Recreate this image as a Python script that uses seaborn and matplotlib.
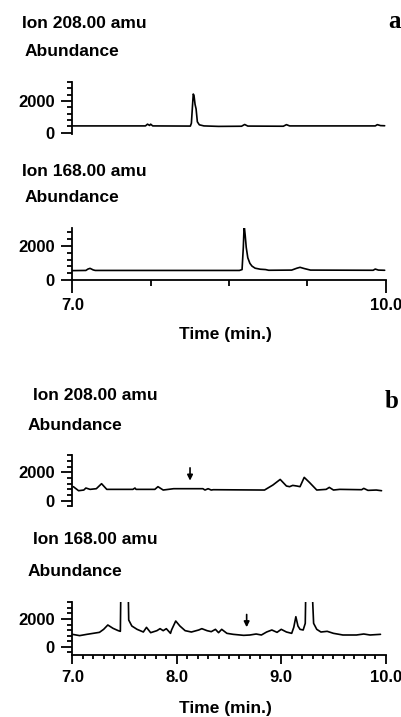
import matplotlib
matplotlib.use("Agg")
import matplotlib.pyplot as plt
from matplotlib.ticker import FixedLocator, FormatStrFormatter, MultipleLocator
import pandas as pd
import seaborn as sns

sns.set_style("ticks")
plt.rcParams['font.family'] = ['Liberation Sans', 'DejaVu Sans']
plt.rcParams['font.weight'] = 'bold'
plt.rcParams['text.color'] = 'black'
plt.rcParams['axes.edgecolor'] = 'black'
plt.rcParams['xtick.color'] = 'black'
plt.rcParams['ytick.color'] = 'black'

# panel a, ion 208
a208_time = [7.00, 7.70, 7.72, 7.74, 7.75, 7.77, 8.13, 8.14, 8.15, 8.158, 8.165, 8.175,
             8.185, 8.197, 8.216, 8.26, 8.40, 8.62, 8.65, 8.68, 9.02, 9.05, 9.08,
             9.90, 9.92, 9.95, 9.99]
a208_val = [430, 430, 540, 460, 540, 430, 420, 600, 1640, 2440, 2350, 1790,
            1500, 690, 500, 430, 400, 410, 520, 420, 410, 510, 430,
            430, 510, 450, 440]

# panel a, ion 168
a168_time = [7.00, 7.13, 7.15, 7.17, 7.20, 7.22, 8.60, 8.625, 8.637, 8.645, 8.655,
             8.665, 8.68, 8.70, 8.72, 8.75, 8.80, 8.85, 8.88, 9.10, 9.15, 9.18,
             9.22, 9.28, 9.88, 9.90, 9.93, 9.99]
a168_val = [560, 570, 650, 690, 600, 570, 570, 620, 1900, 3200, 2600,
            1900, 1300, 980, 820, 700, 640, 620, 580, 590, 700, 750,
            680, 590, 580, 650, 590, 580]

# panel b, ion 208
b208_time = [7.01, 7.06, 7.11, 7.13, 7.17, 7.23, 7.28, 7.33, 7.58, 7.60, 7.61, 7.79,
             7.82, 7.87, 7.97, 8.25, 8.27, 8.30, 8.33, 8.35, 8.84, 8.92, 8.99, 9.05,
             9.08, 9.11, 9.15, 9.18, 9.22, 9.27, 9.34, 9.43, 9.46, 9.50, 9.56, 9.77,
             9.79, 9.83, 9.91, 9.96]
b208_val = [990, 706, 753, 894, 800, 847, 1200, 800, 800, 894, 800, 800,
            990, 753, 847, 847, 753, 847, 753, 776, 753, 1105, 1500, 1035,
            990, 1080, 1035, 990, 1645, 1290, 753, 800, 940, 753, 800, 776,
            870, 730, 753, 706]

# panel b, ion 168
b168_time = [7.00, 7.07, 7.14, 7.20, 7.26, 7.30, 7.34, 7.39, 7.44, 7.46, 7.466, 7.533,
             7.54, 7.57, 7.62, 7.68, 7.71, 7.75, 7.81, 7.84, 7.87, 7.90, 7.94, 7.95,
             7.99, 8.03, 8.08, 8.14, 8.21, 8.24, 8.29, 8.33, 8.37, 8.40, 8.43, 8.48,
             8.54, 8.64, 8.70, 8.76, 8.81, 8.86, 8.91, 8.96, 9.00, 9.05, 9.10, 9.12,
             9.14, 9.16, 9.18, 9.21, 9.23, 9.237, 9.291, 9.31, 9.34, 9.38, 9.44, 9.50,
             9.59, 9.72, 9.79, 9.85, 9.95]
b168_val = [893, 800, 893, 965, 1037, 1254, 1567, 1326, 1158, 1110, 5000, 5000,
            1928, 1494, 1254, 1061, 1398, 1013, 1158, 1302, 1158, 1302, 965, 1206,
            1856, 1494, 1158, 1061, 1206, 1302, 1158, 1086, 1254, 1013, 1254, 965,
            893, 820, 845, 917, 845, 1061, 1206, 1037, 1254, 1061, 965, 1398,
            2166, 1494, 1254, 1206, 1687, 5000, 5000, 1687, 1254, 1061, 1110, 965,
            845, 845, 917, 845, 893]

# arrows marking the expected retention times (time, tail, head)
b208_arrow = (8.127, 2510, 1220)
b168_arrow = (8.669, 2527, 1206)

W, H = 402, 717
fig = plt.figure(figsize=(W / 100, H / 100), dpi=100)


def box(top, bottom):
    return [72.3 / W, 1 - bottom / H, (385.7 - 72.3) / W, (bottom - top) / H]


def trace(ax, t, v, ylim):
    df = pd.DataFrame({'t': t, 'v': v})
    sns.lineplot(data=df, x='t', y='v', ax=ax, color='black', lw=1.2,
                 estimator=None, sort=False)
    ax.set_xlim(7.0, 10.0)
    ax.set_ylim(*ylim)
    ax.set_xlabel('')
    ax.set_ylabel('')
    ax.spines[['top', 'right']].set_visible(False)
    for s in ax.spines.values():
        s.set_linewidth(1.3)
    ax.yaxis.set_major_locator(FixedLocator([0, 2000]))
    ax.yaxis.set_minor_locator(MultipleLocator(400))
    ax.tick_params(axis='y', which='major', length=7.6, width=1.3, pad=5, labelsize=12)
    ax.tick_params(axis='y', which='minor', length=3.4, width=1.3)
    for lab in ax.get_yticklabels():
        lab.set_fontweight('bold')


def no_xaxis(ax):
    ax.spines['bottom'].set_visible(False)
    ax.set_xticks([])
    ax.set_xticks([], minor=True)


ax1 = fig.add_axes(box(82, 134))
trace(ax1, a208_time, a208_val, (-80, 3200))
no_xaxis(ax1)

ax2 = fig.add_axes(box(228.4, 280.3))
trace(ax2, a168_time, a168_val, (0, 3000))
ax2.set_xticks([7.0, 10.0])
ax2.set_xticks([7.75, 8.5, 9.25], minor=True)
ax2.xaxis.set_major_formatter(FormatStrFormatter('%.1f'))
ax2.tick_params(axis='x', which='major', length=9, width=1.3, pad=4, labelsize=12)
ax2.tick_params(axis='x', which='minor', length=4.3, width=1.3)

ax3 = fig.add_axes(box(455.3, 506.4))
trace(ax3, b208_time, b208_val, (-400, 3200))
no_xaxis(ax3)
ax3.annotate('', xy=(b208_arrow[0], b208_arrow[2]), xytext=(b208_arrow[0], b208_arrow[1]),
             arrowprops=dict(arrowstyle='-|>', color='black', lw=1.2, mutation_scale=8))

ax4 = fig.add_axes(box(602.4, 655.0))
trace(ax4, b168_time, b168_val, (-600, 3200))
ax4.set_xticks([7.0, 8.0, 9.0, 10.0])
ax4.xaxis.set_minor_locator(MultipleLocator(0.1))
ax4.xaxis.set_major_formatter(FormatStrFormatter('%.1f'))
ax4.tick_params(axis='x', which='major', length=6.5, width=1.3, pad=4, labelsize=12)
ax4.tick_params(axis='x', which='minor', length=3.2, width=1.3)
ax4.annotate('', xy=(b168_arrow[0], b168_arrow[2]), xytext=(b168_arrow[0], b168_arrow[1]),
             arrowprops=dict(arrowstyle='-|>', color='black', lw=1.2, mutation_scale=8))

for ax in (ax2, ax4):
    for lab in ax.get_xticklabels():
        lab.set_fontweight('bold')


def label(x, y, s, **kw):
    kw.setdefault('fontsize', 12.5)
    kw.setdefault('fontweight', 'bold')
    fig.text(x / W, 1 - y / H, s, va='center', color='black', **kw)


label(22, 23, 'Ion 208.00 amu')
label(25, 52, 'Abundance')
label(22, 172, 'Ion 168.00 amu')
label(25, 198, 'Abundance')
label(225, 334, 'Time (min.)', ha='center')
label(401, 22, 'a', ha='right', fontsize=18, family=['Liberation Serif'])

label(33, 395, 'Ion 208.00 amu')
label(28, 425, 'Abundance')
label(33, 540, 'Ion 168.00 amu')
label(28, 571, 'Abundance')
label(225, 709, 'Time (min.)', ha='center')
label(399, 402, 'b', ha='right', fontsize=18, family=['Liberation Serif'])

fig.savefig('out.png', dpi=100)
